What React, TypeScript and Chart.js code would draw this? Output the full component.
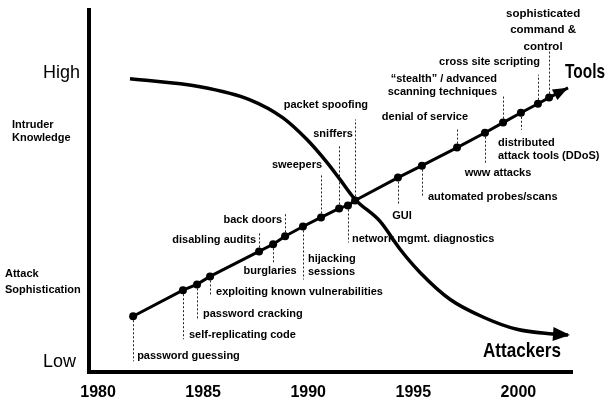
import React, { useEffect, useRef } from 'react';
import { Chart, registerables } from 'chart.js';

Chart.register(...registerables);

// ---- data ----
const tickYears = [1980, 1985, 1990, 1995, 2000];

const toolLabels = [
  'password guessing',
  'self-replicating code',
  'password cracking',
  'exploiting known vulnerabilities',
  'disabling audits',
  'burglaries',
  'back doors',
  'hijacking\nsessions',
  'sweepers',
  'sniffers',
  'network mgmt. diagnostics',
  'packet spoofing',
  'GUI',
  'automated probes/scans',
  'denial of service',
  'www attacks',
  '\u201cstealth\u201d / advanced\nscanning techniques',
  'distributed\nattack tools (DDoS)',
  'cross site scripting',
  'sophisticated\ncommand &\ncontrol',
];
const toolYears = [
  1981.67, 1984.04, 1984.71, 1985.33, 1987.66, 1988.33, 1988.9, 1989.75, 1990.61, 1991.47,
  1991.89, 1992.23, 1994.27, 1995.41, 1997.08, 1998.41, 1999.27, 2000.12, 2000.93, 2001.46,
];
const toolLevels = [
  15.4, 22.6, 24.2, 26.4, 33.3, 35.3, 37.5, 40.2, 42.7, 45.2,
  46.0, 47.4, 53.7, 57.0, 62.0, 66.1, 68.9, 71.6, 74.1, 75.8,
];
const toolEndYear = 2002.36;
const toolEndLevel = 78.5;

const attackerYears = [
  1981.52, 1984.85, 1987.23, 1988.8, 1989.94, 1990.89, 1991.51, 1992.23,
  1993.42, 1994.37, 1995.32, 1996.74, 1998.31, 1999.93, 2001.64, 2002.36,
];
const attackerLevels = [
  81.0, 78.8, 75.2, 70.2, 64.2, 57.9, 53.2, 47.7,
  41.6, 33.9, 27.5, 20.1, 15.2, 11.8, 10.5, 10.2,
];

const levelLabels = ['High', 'Intruder\nKnowledge', 'Attack\nSophistication', 'Low'];
const levelValues = [82.6, 66.5, 24.8, 2.75];

const seriesNames = ['Tools', 'Attackers'];

// ---- layout (offsets in px relative to each point) ----
// [dx, dy, align, leaderLength, lineGap]
const toolLabelLayout: [number, number, CanvasTextAlign, number, number][] = [
  [4, 40, 'left', 45, 13],
  [6, 45, 'left', 49, 13],
  [6, 30, 'left', 35, 13],
  [6, 16, 'left', 20, 13],
  [-3, -11, 'right', -20, 13],
  [-3, 27, 'center', 20, 13],
  [-3, -16, 'right', -24, 13],
  [5, 32, 'left', 53, 13],
  [1, -52, 'right', -43, 13],
  [-6, -74, 'center', -64, 13],
  [4, 33, 'left', 37, 13],
  [13, -95, 'right', -81, 13],
  [4, 38, 'center', 27, 13],
  [6, 31, 'left', 30, 13],
  [11, -31, 'right', -20, 13],
  [13, 40, 'center', 30, 13],
  [-6, -44, 'right', -26, 13],
  [-23, 30, 'left', 17, 13],
  [2, -42, 'right', -29, 13],
  [-6, -84, 'center', -48, 16.5],
];
const levelLabelLayout: [number, string, number][] = [
  // [x, font, lineGap]
  [43, '18px "Liberation Sans", Arial, sans-serif', 13],
  [12, 'bold 11px "Liberation Sans", Arial, sans-serif', 13],
  [5, 'bold 11px "Liberation Sans", Arial, sans-serif', 16],
  [43, '18px "Liberation Sans", Arial, sans-serif', 13],
];

const FONT = '"Liberation Sans", Arial, sans-serif';

function drawArrow(ctx: CanvasRenderingContext2D, fx: number, fy: number, tx: number, ty: number, len: number, half: number) {
  const a = Math.atan2(ty - fy, tx - fx);
  const bx = tx - len * Math.cos(a);
  const by = ty - len * Math.sin(a);
  ctx.beginPath();
  ctx.moveTo(tx, ty);
  ctx.lineTo(bx + half * Math.sin(a), by - half * Math.cos(a));
  ctx.lineTo(bx - half * Math.sin(a), by + half * Math.cos(a));
  ctx.closePath();
  ctx.fill();
}

const annotate = {
  id: 'annotate',
  beforeDatasetsDraw(chart: any) {
    const { ctx, scales } = chart;
    const x = scales.x, y = scales.y;
    ctx.save();
    ctx.strokeStyle = '#222';
    ctx.lineWidth = 1;
    ctx.setLineDash([2, 2]);
    toolLabels.forEach((_, i) => {
      const px = Math.round(x.getPixelForValue(toolYears[i])) + 0.5;
      const py = y.getPixelForValue(toolLevels[i]);
      const lead = toolLabelLayout[i][3];
      ctx.beginPath();
      ctx.moveTo(px, py);
      ctx.lineTo(px, py + lead);
      ctx.stroke();
    });
    ctx.restore();
  },
  afterDatasetsDraw(chart: any) {
    const { ctx, scales } = chart;
    const x = scales.x, y = scales.y;
    ctx.save();
    ctx.fillStyle = '#000';
    ctx.textBaseline = 'middle';
    // point labels
    toolLabels.forEach((t, i) => {
      const px = x.getPixelForValue(toolYears[i]);
      const py = y.getPixelForValue(toolLevels[i]);
      const [dx, dy, align, , gap] = toolLabelLayout[i];
      ctx.font = i === toolLabels.length - 1 ? `bold 11.5px ${FONT}` : `bold 11px ${FONT}`;
      ctx.textAlign = align;
      t.split('\n').forEach((line, j) => ctx.fillText(line, px + dx, py + dy + j * gap));
    });
    // arrowheads
    const n = toolYears.length;
    const t1x = x.getPixelForValue(toolYears[n - 1]);
    const t1y = y.getPixelForValue(toolLevels[n - 1]);
    const t2x = x.getPixelForValue(toolEndYear);
    const t2y = y.getPixelForValue(toolEndLevel);
    drawArrow(ctx, t1x, t1y, t2x, t2y, 15, 6);
    const m = attackerYears.length;
    const a1x = x.getPixelForValue(attackerYears[m - 2]);
    const a1y = y.getPixelForValue(attackerLevels[m - 2]);
    const a2x = x.getPixelForValue(attackerYears[m - 1]);
    const a2y = y.getPixelForValue(attackerLevels[m - 1]);
    drawArrow(ctx, a1x, a1y, a2x + 2, a2y, 17, 7);
    // series names
    ctx.font = `bold 21px ${FONT}`;
    ctx.textAlign = 'left';
    ctx.fillText(seriesNames[0], t2x - 3, t2y - 16, 40);
    ctx.textAlign = 'center';
    ctx.fillText(seriesNames[1], a2x - 46, a2y + 16, 78);
    // level labels at the left
    ctx.textAlign = 'left';
    levelLabels.forEach((t, i) => {
      const [lx, font, gap] = levelLabelLayout[i];
      const lines = t.split('\n');
      const cy = y.getPixelForValue(levelValues[i]) - ((lines.length - 1) * gap) / 2;
      ctx.font = font;
      lines.forEach((line, j) => ctx.fillText(line, lx, cy + j * gap));
    });
    ctx.restore();
  },
};

export default function App() {
  const ref = useRef<HTMLCanvasElement | null>(null);
  useEffect(() => {
    document.body.style.margin = '0';
    const canvas = ref.current!;
    const toolData = toolYears.map((v, i) => ({ x: v, y: toolLevels[i] }));
    toolData.push({ x: toolEndYear, y: toolEndLevel });
    const attData = attackerYears.map((v, i) => ({ x: v, y: attackerLevels[i] }));
    const chart = new Chart(canvas, {
      type: 'scatter',
      data: {
        datasets: [
          {
            label: seriesNames[0],
            data: toolData,
            showLine: true,
            borderColor: '#000',
            backgroundColor: '#000',
            borderWidth: 3,
            pointRadius: (c: any) => (c.dataIndex < toolYears.length ? 4 : 0),
            pointBackgroundColor: '#000',
            pointBorderWidth: 0,
            tension: 0,
          },
          {
            label: seriesNames[1],
            data: attData,
            showLine: true,
            borderColor: '#000',
            borderWidth: 3.5,
            pointRadius: 0,
            cubicInterpolationMode: 'monotone',
          },
        ],
      },
      options: {
        animation: false,
        responsive: false,
        devicePixelRatio: 1,
        layout: { padding: { left: 89, right: 34, top: 10, bottom: 0 } },
        plugins: { legend: { display: false }, tooltip: { enabled: false } },
        scales: {
          x: {
            type: 'linear',
            min: 1979.57,
            max: 2002.55,
            afterBuildTicks: (s: any) => {
              s.ticks = tickYears.map((v) => ({ value: v }));
            },
            afterFit: (s: any) => {
              s.height = 28;
            },
            grid: { display: false, drawTicks: false },
            border: { display: true, color: '#000', width: 4 },
            ticks: {
              color: '#000',
              font: { family: FONT, size: 16, weight: 'bold', lineHeight: 1 },
              padding: 13,
              maxRotation: 0,
              callback: (v: any) => String(v),
            },
          },
          y: {
            type: 'linear',
            min: 0,
            max: 100,
            grid: { display: false, drawTicks: false },
            border: { display: true, color: '#000', width: 4 },
            ticks: { display: false },
          },
        },
      },
      plugins: [annotate],
    } as any);
    return () => chart.destroy();
  }, []);
  return (
    <div style={{ width: 606, height: 400 }}>
      <canvas ref={ref} width={606} height={400} style={{ display: 'block' }} />
    </div>
  );
}
